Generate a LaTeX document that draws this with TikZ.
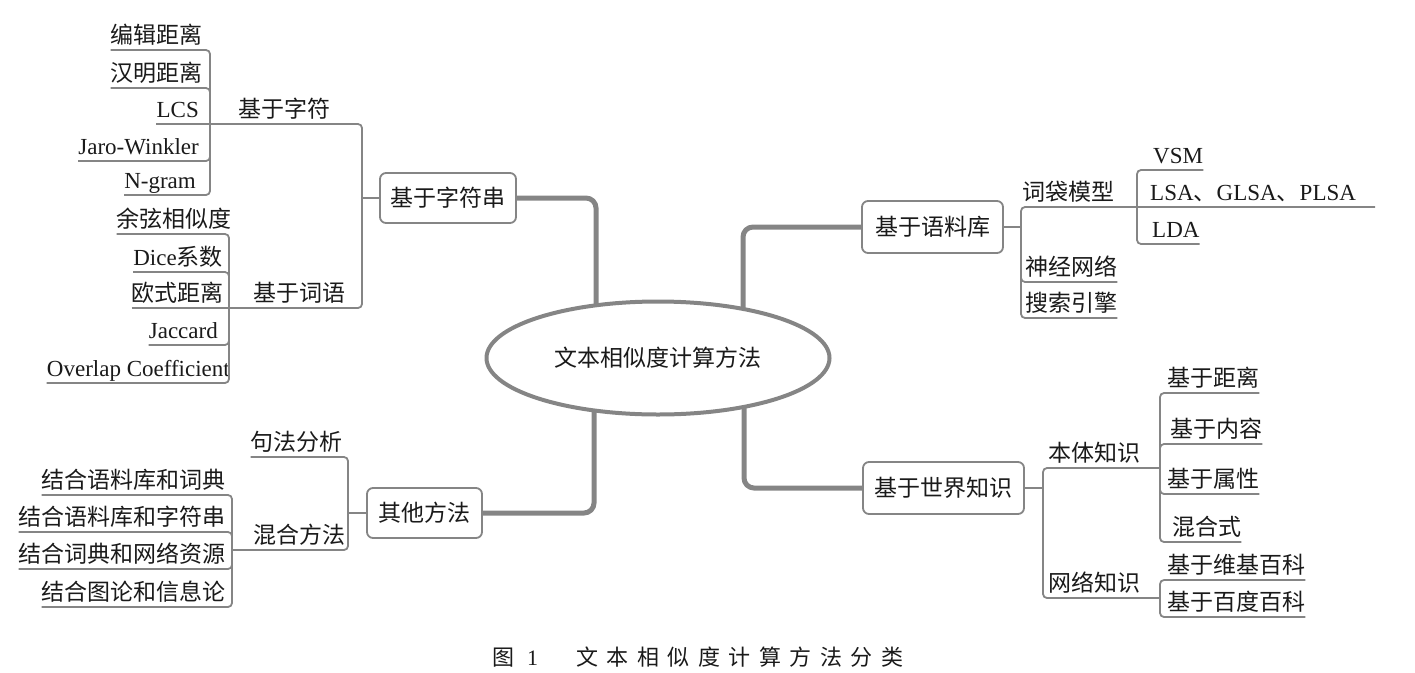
\documentclass[tikz,border=0pt]{standalone}
\usepackage{fontspec}
\setmainfont{Liberation Serif}
\newfontfamily\cjk{Noto Sans CJK SC}
\newcommand\zhs[1]{{\cjk #1}}
\usetikzlibrary{shapes.geometric,backgrounds}
\definecolor{lc}{HTML}{858585}
\definecolor{tc}{HTML}{1A1A1A}
\tikzset{
  lab/.style={inner sep=0pt, text=tc, font=\fontsize{23}{25}\selectfont},
  thinl/.style={draw=lc, line width=1.8pt, rounded corners=4pt},
  thickl/.style={draw=lc, line width=5pt, rounded corners=10pt},
  topbox/.style={draw=lc, line width=1.8pt, rounded corners=6pt, fill=white, text=tc,
    font=\fontsize{23}{25}\selectfont, inner sep=0pt},
  centre/.style={ellipse, draw=lc, line width=4pt, fill=white, text=tc,
    font=\fontsize{23}{25}\selectfont, inner sep=0pt},
}
% left leaf: name, bracket x, line y, junction y, text right x, text
\newcommand\lleaf[6]{%
  \coordinate (#1-b) at (#2,#3);
  \coordinate (#1-j) at (#2,#4);
  \node[lab, anchor=base east] (#1) at (#5,{#3-7}) {#6};
  \draw[thinl] (#1.west |- #1-b) -- (#1-b) -- (#1-j);
}
% left leaf on the junction line: name, bracket x, line y, text right x, text
\newcommand\lleafs[5]{%
  \coordinate (#1-b) at (#2,#3);
  \node[lab, anchor=base east] (#1) at (#4,{#3-7}) {#5};
  \draw[thinl] (#1.west |- #1-b) -- (#1-b);
}
% right leaf: name, bracket x, line y, junction y, text left x, text
\newcommand\rleaf[6]{%
  \coordinate (#1-b) at (#2,#3);
  \coordinate (#1-j) at (#2,#4);
  \node[lab, anchor=base west] (#1) at (#5,{#3-7}) {#6};
  \draw[thinl] (#1-j) -- (#1-b) -- (#1.east |- #1-b);
}
\begin{document}
\begin{tikzpicture}[x=1pt,y=-1pt]
\useasboundingbox (0,0) rectangle (1415,672);

% centre and main boxes
\node[centre, minimum width=343pt, minimum height=113pt] (ctr) at (658,358) {\zhs{文本相似度计算方法}};
\node[topbox, minimum width=136pt, minimum height=50pt] (s1) at (448,198) {\zhs{基于字符串}};
\node[topbox, minimum width=141pt, minimum height=52pt] (s2) at (932.5,227) {\zhs{基于语料库}};
\node[topbox, minimum width=115pt, minimum height=50pt] (s3) at (424.5,513) {\zhs{其他方法}};
\node[topbox, minimum width=161pt, minimum height=52pt] (s4) at (943.5,488) {\zhs{基于世界知识}};

% thick connectors from the centre
\coordinate (k1) at (596,198); \coordinate (k1e) at (596,358);
\coordinate (k2) at (743,227); \coordinate (k2e) at (743,358);
\coordinate (k3) at (594,513); \coordinate (k3e) at (594,358);
\coordinate (k4) at (744,488); \coordinate (k4e) at (744,358);
\begin{scope}[on background layer]
\draw[thickl] (s1.east) -- (k1) -- (k1e);
\draw[thickl] (s2.west) -- (k2) -- (k2e);
\draw[thickl] (s3.east) -- (k3) -- (k3e);
\draw[thickl] (s4.west) -- (k4) -- (k4e);
\end{scope}

% ---------- 基于字符串 ----------
\coordinate (m1) at (362,198);
\draw[thinl] (s1.west) -- (m1);
\coordinate (pa) at (210,124); \coordinate (pa2) at (362,124);
\node[lab, anchor=base west] (ta) at (238,117) {\zhs{基于字符}};
\draw[thinl] (pa) -- (pa2) -- (m1);
\lleaf{a1}{210}{50}{124}{203}{\zhs{编辑距离}}
\lleaf{a2}{210}{88}{124}{203}{\zhs{汉明距离}}
\lleafs{a3}{210}{124}{199}{LCS}
\lleaf{a4}{210}{161}{124}{199}{Jaro-Winkler}
\lleaf{a5}{210}{195}{124}{196}{N-gram}

\coordinate (pb) at (229,308); \coordinate (pb2) at (362,308);
\node[lab, anchor=base west] (tb) at (253,301) {\zhs{基于词语}};
\draw[thinl] (pb) -- (pb2) -- (m1);
\lleaf{b1}{229}{234}{308}{232}{\zhs{余弦相似度}}
\lleaf{b2}{229}{272}{308}{223}{Dice\zhs{系数}}
\lleafs{b3}{229}{308}{224}{\zhs{欧式距离}}
\lleaf{b4}{229}{345}{308}{218}{Jaccard}
\lleaf{b5}{229}{383}{308}{230}{Overlap Coefficient}

% ---------- 其他方法 ----------
\coordinate (m3) at (348,513);
\draw[thinl] (s3.west) -- (m3);
\lleaf{c0}{348}{457}{513}{343}{\zhs{句法分析}}
\coordinate (pc) at (232,550); \coordinate (pc2) at (348,550);
\node[lab, anchor=base west] (tc) at (253,543) {\zhs{混合方法}};
\draw[thinl] (pc) -- (pc2) -- (m3);
\lleaf{c1}{232}{495}{550}{226}{\zhs{结合语料库和词典}}
\lleaf{c2}{232}{532}{550}{226}{\zhs{结合语料库和字符串}}
\lleaf{c3}{232}{569}{550}{226}{\zhs{结合词典和网络资源}}
\lleaf{c4}{232}{607}{550}{226}{\zhs{结合图论和信息论}}

% ---------- 基于语料库 ----------
\coordinate (m2) at (1021,227);
\draw[thinl] (s2.east) -- (m2);
\coordinate (pd) at (1021,207); \coordinate (pd2) at (1375,207);
\node[lab, anchor=base west] (td) at (1022,200) {\zhs{词袋模型}};
\draw[thinl] (m2) -- (pd) -- (pd2);
\rleaf{d1}{1021}{282}{227}{1025}{\zhs{神经网络}}
\rleaf{d2}{1021}{318}{227}{1025}{\zhs{搜索引擎}}
\rleaf{d3}{1137}{170}{207}{1153}{VSM}
\node[lab, anchor=base west] (lsa) at (1150,200) {LSA\zhs{、}GLSA\zhs{、}PLSA};
\rleaf{d4}{1137}{244}{207}{1152}{LDA}

% ---------- 基于世界知识 ----------
\coordinate (m4) at (1043,488);
\draw[thinl] (s4.east) -- (m4);
\coordinate (pe) at (1043,468); \coordinate (pe2) at (1160,468);
\node[lab, anchor=base west] (te) at (1048,461) {\zhs{本体知识}};
\draw[thinl] (m4) -- (pe) -- (pe2);
\coordinate (pf) at (1043,598); \coordinate (pf2) at (1160,598);
\node[lab, anchor=base west] (tf) at (1048,591) {\zhs{网络知识}};
\draw[thinl] (m4) -- (pf) -- (pf2);
\rleaf{e1}{1160}{393}{468}{1167}{\zhs{基于距离}}
\rleaf{e2}{1160}{444}{468}{1170}{\zhs{基于内容}}
\rleaf{e3}{1160}{494}{468}{1167}{\zhs{基于属性}}
\rleaf{e4}{1160}{542}{468}{1172}{\zhs{混合式}}
\rleaf{e5}{1160}{580}{598}{1167}{\zhs{基于维基百科}}
\rleaf{e6}{1160}{617}{598}{1167}{\zhs{基于百度百科}}

% caption
\node[inner sep=0pt, anchor=base west, text=tc, font=\fontsize{22}{24}\selectfont] (cap) at (492,665)
 {\zhs{图}\hspace{13pt}1\hspace{38pt}\zhs{文\hspace{8.5pt}本\hspace{8.5pt}相\hspace{8.5pt}似\hspace{8.5pt}度\hspace{8.5pt}计\hspace{8.5pt}算\hspace{8.5pt}方\hspace{8.5pt}法\hspace{8.5pt}分\hspace{8.5pt}类}};
\end{tikzpicture}
\end{document}
